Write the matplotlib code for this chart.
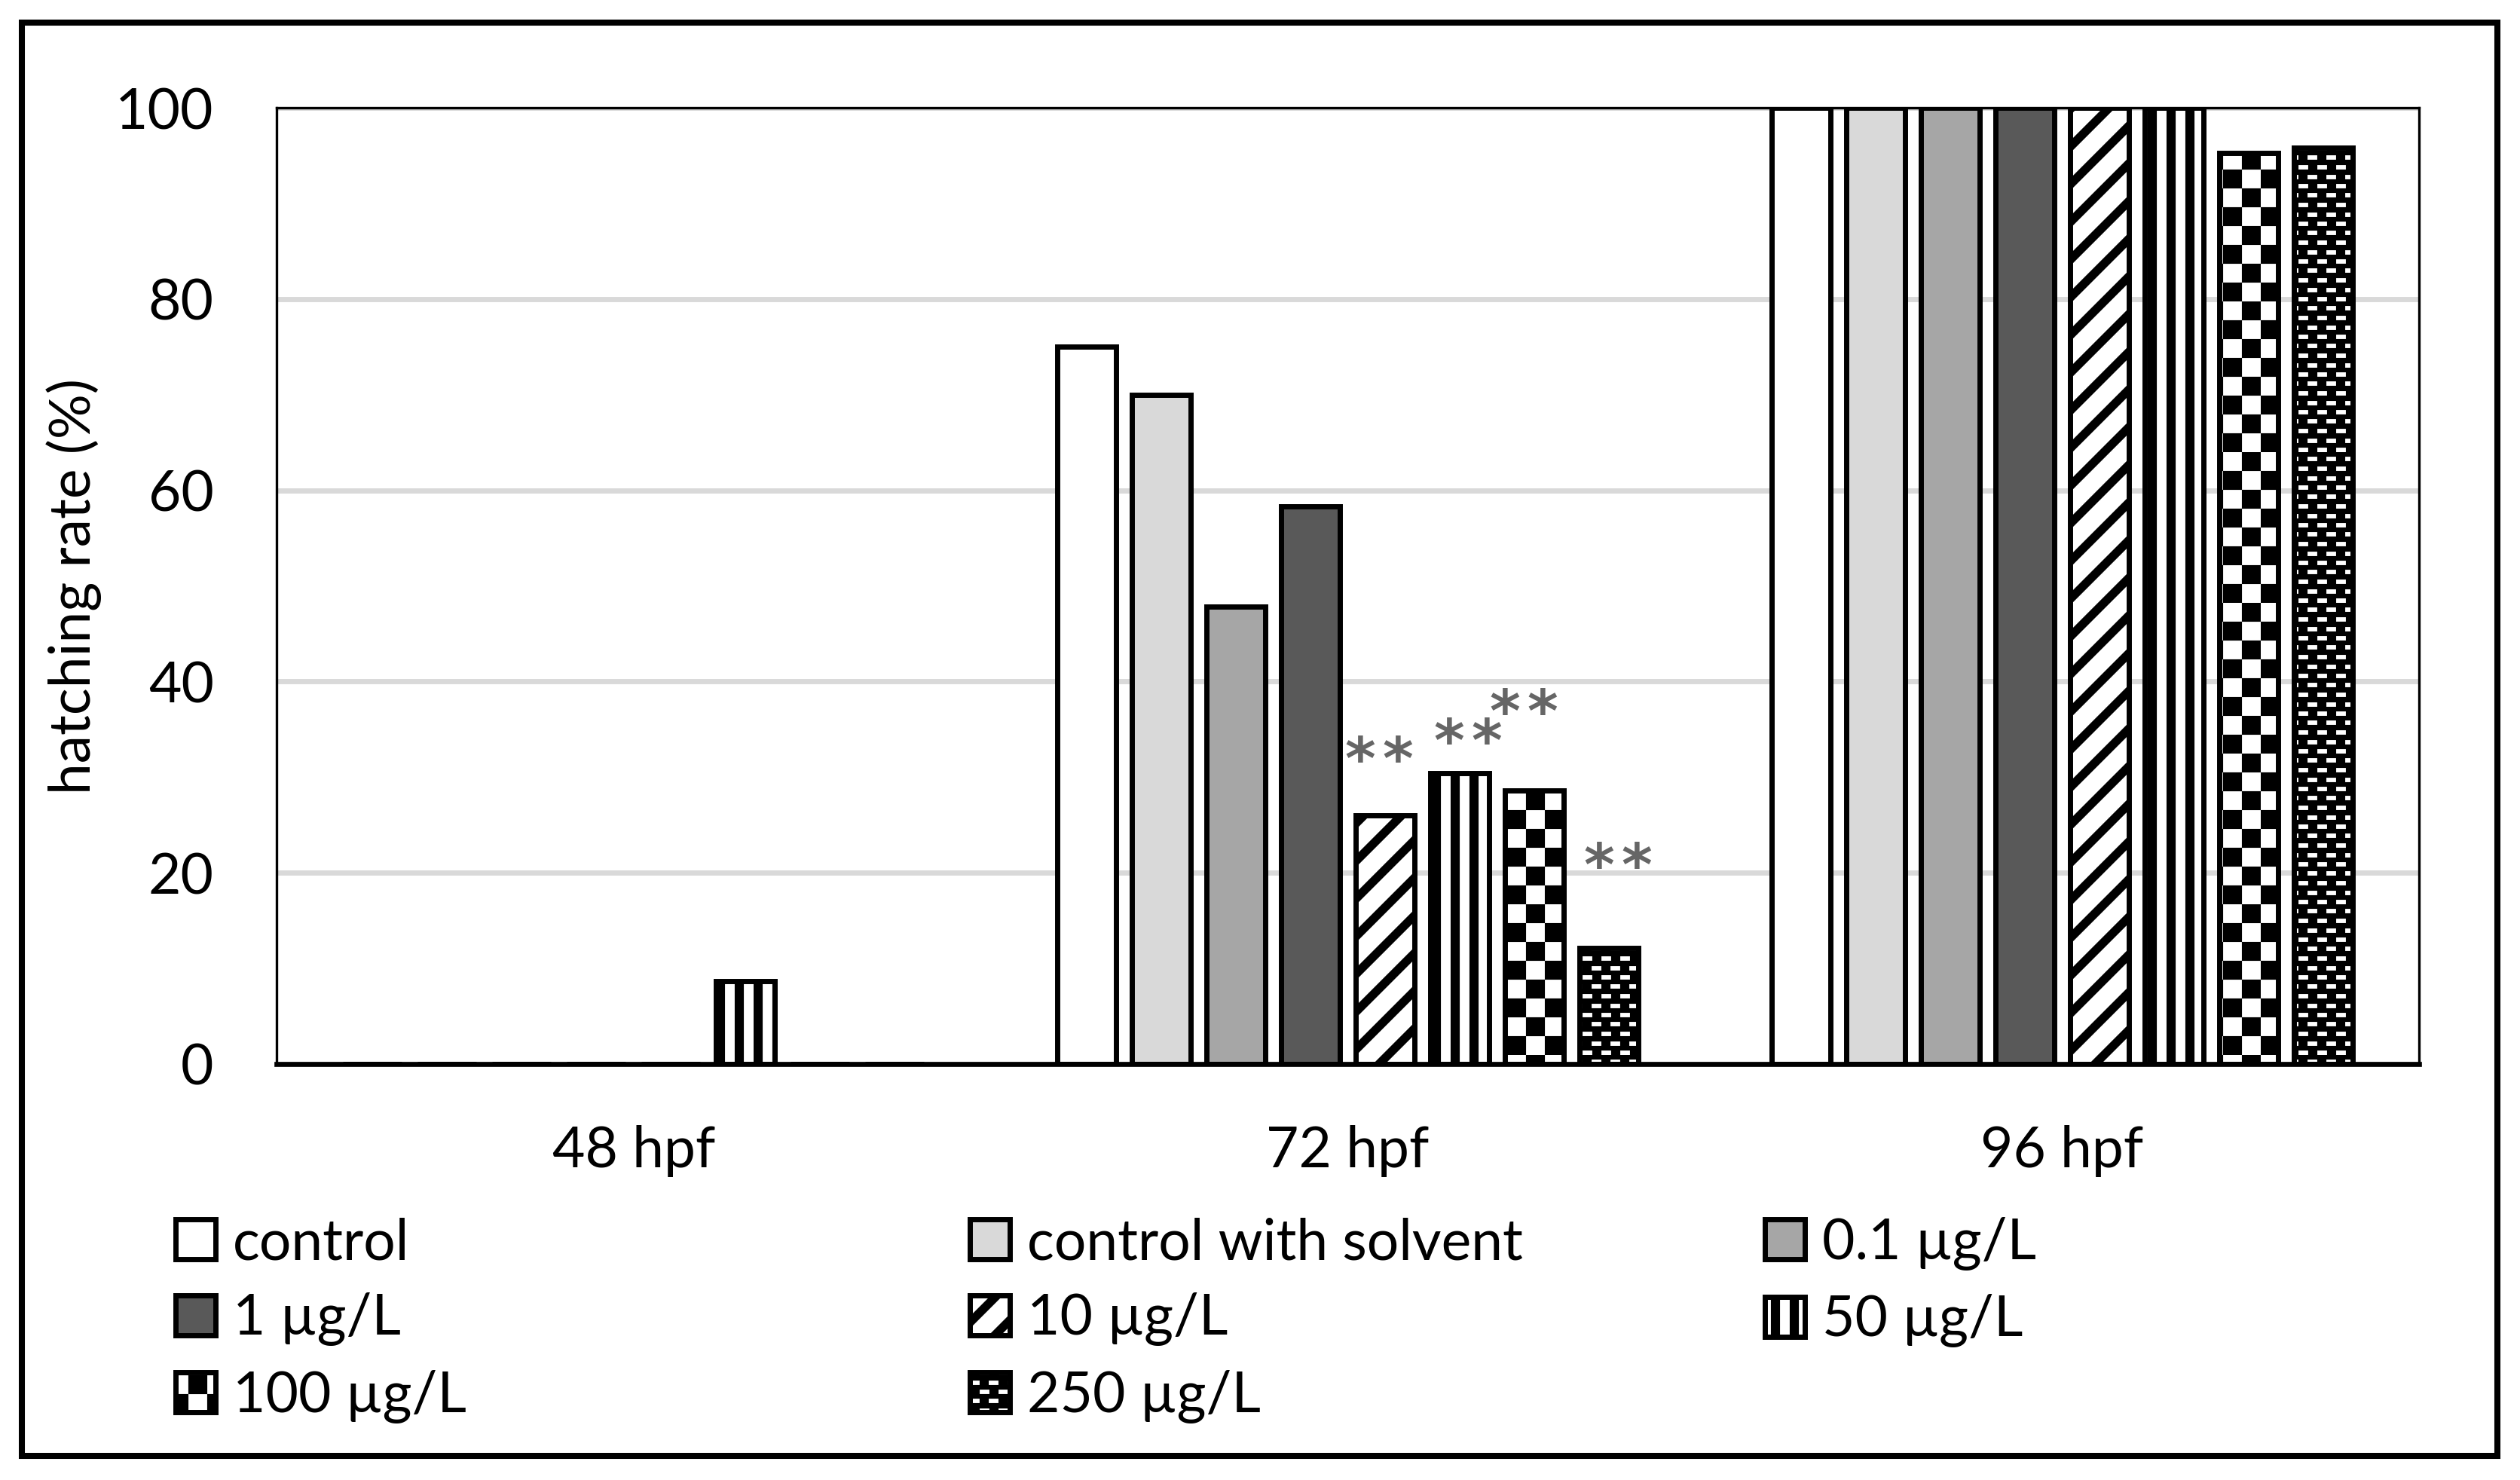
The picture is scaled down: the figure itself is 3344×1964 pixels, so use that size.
import numpy as np
import matplotlib
matplotlib.use("Agg")
import matplotlib.pyplot as plt
import matplotlib.hatch as mhatch
from matplotlib.path import Path
from matplotlib.patches import Rectangle

# ---------------- data ----------------
categories = ["48 hpf", "72 hpf", "96 hpf"]
series_labels = ["control", "control with solvent", "0.1 \u00b5g/L", "1 \u00b5g/L",
                 "10 \u00b5g/L", "50 \u00b5g/L", "100 \u00b5g/L", "250 \u00b5g/L"]
control = [0, 75.0, 100]
control_solvent = [0, 70.0, 100]
conc_0_1 = [0, 47.8, 100]
conc_1 = [0, 58.3, 100]
conc_10 = [0, 26.0, 100]
conc_50 = [8.7, 30.4, 100]
conc_100 = [0, 28.6, 95.3]
conc_250 = [0, 12.1, 95.8]
series_values = [control, control_solvent, conc_0_1, conc_1,
                 conc_10, conc_50, conc_100, conc_250]
yticks = [0, 20, 40, 60, 80, 100]
ylabel = "hatching rate (%)"

# significance marks (72 hpf), label positions in data coordinates
sig_series = ["10 \u00b5g/L", "50 \u00b5g/L", "100 \u00b5g/L", "250 \u00b5g/L"]
sig_text = "**"
sig_label_x = [1.044, 1.168, 1.246, 1.378]
sig_label_y = [33.1, 35.0, 38.1, 22.0]

# ---------------- custom fill patterns (Excel-like) ----------------
DPI = 200
T = float(DPI)  # hatch tile = 1 inch = DPI pixels


def _poly_path(polys):
    verts, codes = [], []
    for poly in polys:
        verts += list(poly) + [poly[0]]
        codes += [Path.MOVETO] + [Path.LINETO] * (len(poly) - 1) + [Path.CLOSEPOLY]
    return Path(np.array(verts, float) / T, codes)


def _rect(x0, y0, x1, y1):
    return [(x0, y0), (x1, y0), (x1, y1), (x0, y1)]


# wide upward diagonal
_diag = []
for c in range(-300, 300, 50):
    t = 16
    _diag.append([(-20, -20 + c), (220, 220 + c), (220, 220 + c + t), (-20, -20 + c + t)])
# vertical stripes
_vert = [_rect(i * 25, -5, i * 25 + 12, 205) for i in range(8)]
# large checkerboard
_check = [_rect(i * 25, j * 25, i * 25 + 25, j * 25 + 25)
          for i in range(8) for j in range(8) if (i + j) % 2 == 0]
# black with staggered white dashes
_dash = []
for k in range(16):
    y0 = round(k * 12.5)
    y1 = round((k + 1) * 12.5)
    _dash.append(_rect(-5, y0 + 6, 205, y1))
    off = 0 if k % 2 == 0 else 12
    for j in range(-2, 10):
        _dash.append(_rect(off + j * 25 + 13, y0, off + j * 25 + 25, y0 + 6))

_CUSTOM = {"/": _poly_path(_diag), "|": _poly_path(_vert),
           "+": _poly_path(_check), ".": _poly_path(_dash)}
_orig_get_path = mhatch.get_path


def _get_path(hatchpattern, density=6):
    p = _CUSTOM.get(hatchpattern)
    return p if p is not None else _orig_get_path(hatchpattern, density)


mhatch.get_path = _get_path

# ---------------- style ----------------
plt.rcParams['font.family'] = ['Lato', 'DejaVu Sans']
plt.rcParams['hatch.linewidth'] = 0.05
plt.rcParams['hatch.color'] = 'black'

styles = [dict(facecolor="#ffffff"), dict(facecolor="#d9d9d9"),
          dict(facecolor="#a6a6a6"), dict(facecolor="#595959"),
          dict(facecolor="#ffffff", hatch="/"), dict(facecolor="#ffffff", hatch="|"),
          dict(facecolor="#ffffff", hatch="+"), dict(facecolor="#ffffff", hatch=".")]

WPX, HPX = 3344, 1964
fig = plt.figure(figsize=(WPX / DPI, HPX / DPI), dpi=DPI)
fig.patch.set_facecolor('white')

ax_l, ax_r, ax_t, ax_b = 367, 3210, 143, 1412
ax = fig.add_axes([ax_l / WPX, 1 - ax_b / HPX, (ax_r - ax_l) / WPX, (ax_b - ax_t) / HPX])

FS = 27
n = len(series_values)
step = 0.1045
width = 0.0823
x = np.arange(len(categories))
containers = []
for i, (vals, lab, st) in enumerate(zip(series_values, series_labels, styles)):
    bc = ax.bar(x + (i - (n - 1) / 2) * step, vals, width, label=lab,
                edgecolor='black', linewidth=2.5, zorder=2, **st)
    containers.append(bc)

ax.set_xlim(-0.5, len(categories) - 0.5)
ax.set_ylim(0, 100)
ax.set_yticks(yticks)
ax.set_xticks(x)
ax.set_xticklabels(categories)
ax.tick_params(axis='both', length=0, labelsize=FS, colors='black')
ax.tick_params(axis='y', pad=30)
ax.tick_params(axis='x', pad=29)
ax.yaxis.grid(True, color='#d9d9d9', linewidth=2.5)
ax.set_axisbelow(True)
for s in ax.spines.values():
    s.set_linewidth(1.2)
    s.set_color('black')
ax.spines['bottom'].set_linewidth(2.4)
ax.spines['bottom'].set_zorder(3)

ax.set_ylabel(ylabel, fontsize=FS, va='center')
ax.yaxis.set_label_coords((98 - ax_l) / (ax_r - ax_l), 0.5)

# significance asterisks: each glyph drawn separately with a small gap
SIG_FS = 28
SIG_GAP = 9.0   # points from pair centre to each asterisk centre
for xc, yv in zip(sig_label_x, sig_label_y):
    k = len(sig_text)
    for j, ch in enumerate(sig_text):
        dx = (j - (k - 1) / 2) * 2 * SIG_GAP
        ax.annotate(ch, xy=(xc, yv), xytext=(dx, -0.54 * SIG_FS),
                    textcoords='offset points', ha='center', va='baseline',
                    fontsize=SIG_FS, fontweight='bold', color='#666666',
                    family='DejaVu Sans', zorder=4)

# legend: three columns, filled row-wise
col_members = [[0, 3, 6], [1, 4, 7], [2, 5]]
col_x = [233, 1287, 2342]
for cx, members in zip(col_x, col_members):
    fig.legend([containers[i] for i in members], [series_labels[i] for i in members],
               loc='upper left', bbox_to_anchor=(cx / WPX, 1 - 1615 / HPX),
               bbox_transform=fig.transFigure, frameon=False, borderpad=0,
               borderaxespad=0, handlelength=0.71, handleheight=0.71,
               handletextpad=0.3, labelspacing=0.42, fontsize=FS)

# outer border
fig.add_artist(Rectangle((29 / WPX, 1 - 1932 / HPX), (3314 - 29) / WPX, (1932 - 30) / HPX,
                         transform=fig.transFigure, fill=False, linewidth=2.9,
                         edgecolor='black'))

fig.savefig('out.png', dpi=DPI, facecolor='white')
